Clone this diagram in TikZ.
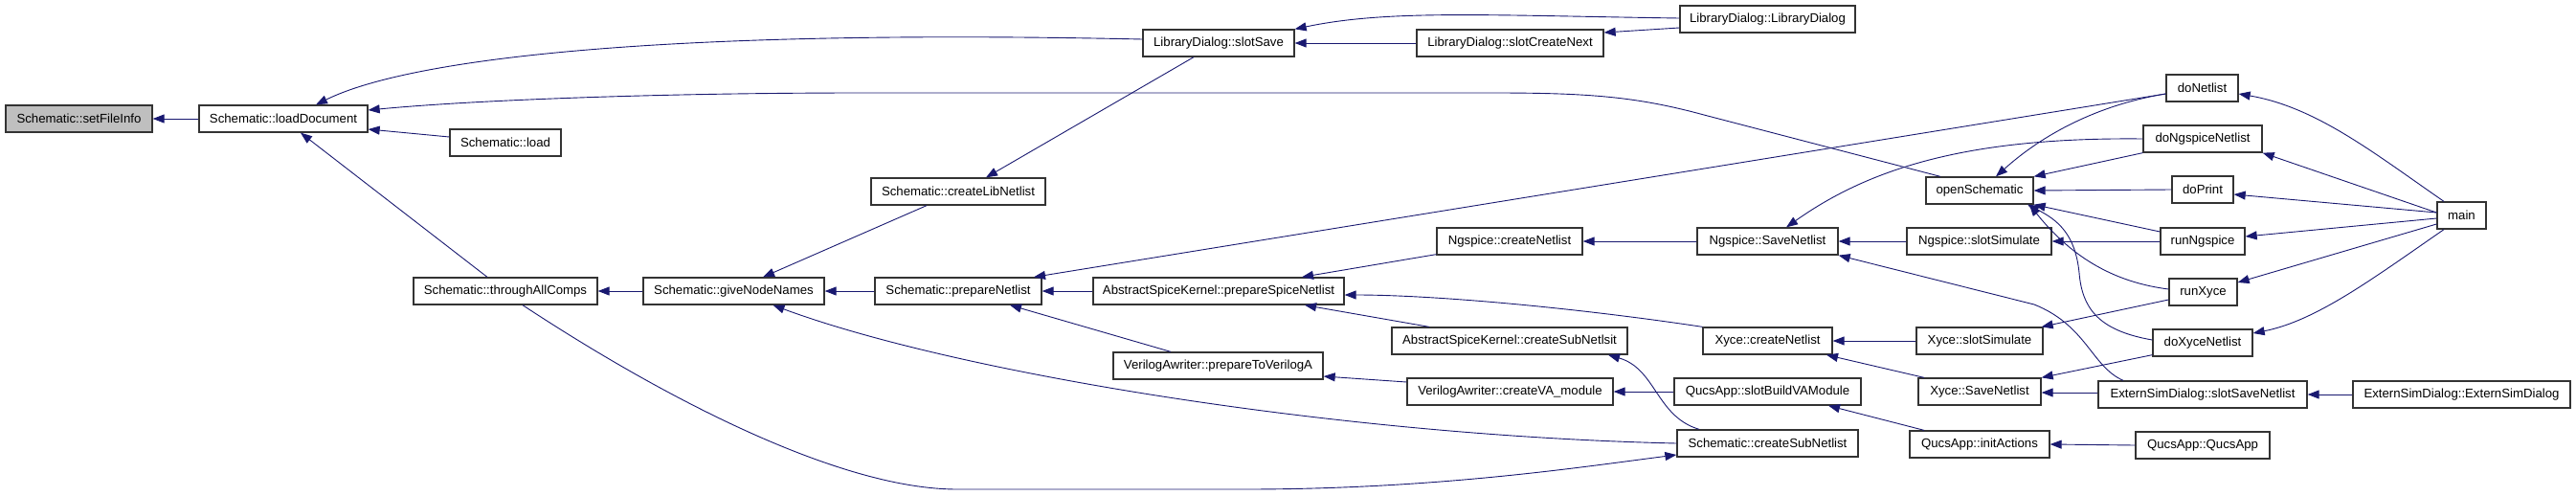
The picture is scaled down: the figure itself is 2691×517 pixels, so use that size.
\documentclass[tikz,border=0pt]{standalone}
\usepackage{fontspec}
\setmainfont{Liberation Sans}
\usetikzlibrary{arrows.meta,calc}
\definecolor{edgeblue}{HTML}{191970}
\definecolor{rootgray}{HTML}{BFBFBF}
\definecolor{boxline}{HTML}{333333}
\begin{document}
\begin{tikzpicture}[x=1pt,y=-1pt,
  box/.style={draw=boxline,line width=1.3pt,fill=white,rectangle,inner sep=0pt,minimum height=28pt,font=\fontsize{13.2}{15}\selectfont,text=black},
  rootbox/.style={box,fill=rootgray},
  edge/.style={draw=edgeblue,line width=0.9pt,-{Triangle[length=12pt,width=9pt]}}]
\useasboundingbox (0,0) rectangle (2691,517);
% nodes
\node[rootbox,minimum width=153pt] (sfi) at (82.5,124) {Schematic::setFileInfo};
\node[box,minimum width=176pt] (ld) at (296,124) {Schematic::loadDocument};
\node[box,minimum width=116pt] (load) at (528,149) {Schematic::load};
\node[box,minimum width=192pt] (tac) at (528,304) {Schematic::throughAllComps};
\node[box,minimum width=189pt] (gnn) at (766.5,304) {Schematic::giveNodeNames};
\node[box,minimum width=158pt] (ss) at (1273,45) {LibraryDialog::slotSave};
\node[box,minimum width=182pt] (cln) at (1001,200) {Schematic::createLibNetlist};
\node[box,minimum width=174pt] (pn) at (1001,304) {Schematic::prepareNetlist};
\node[box,minimum width=262pt] (psn) at (1273,304) {AbstractSpiceKernel::prepareSpiceNetlist};
\node[box,minimum width=219pt] (ptv) at (1272.5,382) {VerilogAwriter::prepareToVerilogA};
\node[box,minimum width=195pt] (scn) at (1577.5,45) {LibraryDialog::slotCreateNext};
\node[box,minimum width=183pt] (ldd) at (1846.5,20) {LibraryDialog::LibraryDialog};
\node[box,minimum width=152pt] (ncn) at (1577,252) {Ngspice::createNetlist};
\node[box,minimum width=246pt] (csnl) at (1577,356) {AbstractSpiceKernel::createSubNetlsit};
\node[box,minimum width=215pt] (cva) at (1577.5,409) {VerilogAwriter::createVA\_module};
\node[box,minimum width=189pt] (csn) at (1846.5,463) {Schematic::createSubNetlist};
\node[box,minimum width=147pt] (nsn) at (1846.5,252) {Ngspice::SaveNetlist};
\node[box,minimum width=135pt] (xcn) at (1846.5,356) {Xyce::createNetlist};
\node[box,minimum width=195pt] (sbva) at (1846.5,409) {QucsApp::slotBuildVAModule};
\node[box,minimum width=112pt] (os) at (2068,199) {openSchematic};
\node[box,minimum width=151pt] (nss) at (2067.5,252) {Ngspice::slotSimulate};
\node[box,minimum width=132pt] (xss) at (2068,356) {Xyce::slotSimulate};
\node[box,minimum width=128pt] (xsn) at (2068,409) {Xyce::SaveNetlist};
\node[box,minimum width=146pt] (ia) at (2068,464) {QucsApp::initActions};
\node[box,minimum width=218pt] (essn) at (2301,412) {ExternSimDialog::slotSaveNetlist};
\node[box,minimum width=75pt] (dn) at (2300.5,92) {doNetlist};
\node[box,minimum width=124pt] (dnn) at (2301,145) {doNgspiceNetlist};
\node[box,minimum width=64pt] (dp) at (2301,198) {doPrint};
\node[box,minimum width=88pt] (rn) at (2301,252) {runNgspice};
\node[box,minimum width=71pt] (rx) at (2301.5,305) {runXyce};
\node[box,minimum width=104pt] (dxn) at (2301,358) {doXyceNetlist};
\node[box,minimum width=227pt] (esd) at (2571.5,412) {ExternSimDialog::ExternSimDialog};
\node[box,minimum width=140pt] (qa) at (2301,465) {QucsApp::QucsApp};
\node[box,minimum width=51pt] (main) at (2571.5,225) {main};
% edges
\draw[edge] (ld.west) -- (sfi.east);
\draw[edge] ($(ss.west)+(0,-4)$) .. controls (700,30) and (430,60) .. ($(ld.north)+(34,0)$);
\draw[edge] ($(os.north)+(-41,0)$) -- (1780,120) .. controls (1710,101) and (1660,97) .. (1560,97) -- (900,97) .. controls (700,97) and (500,104) .. ($(ld.east)+(0,-9)$);
\draw[edge] ($(load.west)+(0,-6)$) -- ($(ld.east)+(0,11)$);
\draw[edge] ($(tac.north)+(-19,0)$) -- ($(ld.south)+(18,0)$);
\draw[edge] (gnn.west) -- (tac.east);
\draw[edge] ($(tac.south)+(18,0)$) .. controls (700,420) and (880,511) .. (1000,511) -- (1300,511) .. controls (1500,511) and (1650,488) .. ($(csn.west)+(0,12)$);
\draw[edge] (csn.west) .. controls (1400,455) and (1000,390) .. ($(gnn.south)+(41,0)$);
\draw[edge] ($(cln.south)+(-33,0)$) -- ($(gnn.north)+(30.5,0)$);
\draw[edge] (pn.west) -- (gnn.east);
\draw[edge] ($(ss.south)+(-26,0)$) -- ($(cln.north)+(29,0)$);
\draw[edge] (scn.west) -- (ss.east);
\draw[edge] ($(ldd.west)+(0,-1)$) .. controls (1550,16) and (1450,10) .. (ss.north east);
\draw[edge] ($(ldd.west)+(0,9)$) -- ($(scn.east)+(0,-11)$);
\draw[edge] ($(dn.west)+(0,6)$) -- ($(pn.north)+(79,0)$);
\draw[edge] (psn.west) -- (pn.east);
\draw[edge] ($(ptv.north)+(-49.5,0)$) -- ($(pn.south)+(54,0)$);
\draw[edge] ($(ncn.south west)+(0,-1)$) -- ($(psn.north)+(87,0)$);
\draw[edge] (xcn.north west) .. controls (1650,322) and (1500,308) .. ($(psn.east)+(0,4)$);
\draw[edge] ($(csnl.north)+(-84,0)$) -- ($(psn.south)+(90,0)$);
\draw[edge] ($(csn.north)+(-71.5,0)$) .. controls (1730,435) and (1730,385) .. ($(csnl.south)+(103,0)$);
\draw[edge] ($(cva.west)+(0,-10)$) -- ($(ptv.east)+(0,11)$);
\draw[edge] (sbva.west) -- (cva.east);
\draw[edge] (nsn.west) -- (ncn.east);
\draw[edge] (dnn.west) .. controls (2050,143) and (1950,178) .. ($(nsn.north)+(19.5,0)$);
\draw[edge] (nss.west) -- (nsn.east);
\draw[edge] ($(essn.north)+(-83,0)$) .. controls (2185,383) and (2180,340) .. (2125,318) -- (nsn.south east);
\draw[edge] (rn.west) -- (nss.east);
\draw[edge] ($(dn.west)+(0,6)$) .. controls (2200,108) and (2140,135) .. ($(os.north)+(17,0)$);
\draw[edge] (dnn.south west) -- (os.north east);
\draw[edge] (dp.west) -- (os.east);
\draw[edge] ($(rn.west)+(0,-10)$) -- (os.south east);
\draw[edge] ($(rx.west)+(0,-3)$) .. controls (2210,295) and (2165,270) .. ($(os.south)+(52,0)$);
\draw[edge] ($(dxn.west)+(0,-3)$) .. controls (2190,345) and (2175,320) .. (2172,285) .. controls (2168,245) and (2150,230) .. ($(os.south)+(50,0)$);
\draw[edge] (xss.west) -- (xcn.east);
\draw[edge] ($(xsn.north)+(-58,0)$) -- ($(xcn.south)+(61.5,0)$);
\draw[edge] ($(rx.west)+(0,8)$) -- ($(xss.north east)+(-2,0)$);
\draw[edge] ($(dxn.south west)+(0,-2)$) -- (xsn.north east);
\draw[edge] ($(essn.west)+(0,-2)$) -- ($(xsn.east)+(0,1)$);
\draw[edge] (esd.west) -- (essn.east);
\draw[edge] ($(ia.north)+(-58,0)$) -- ($(sbva.south)+(63.5,0)$);
\draw[edge] (qa.west) -- (ia.east);
\draw[edge] ($(main.north)+(-18.5,0)$) .. controls (2480,160) and (2420,112) .. ($(dn.east)+(0,6)$);
\draw[edge] ($(main.west)+(0,-3)$) -- (dnn.south east);
\draw[edge] ($(main.west)+(0,-3)$) -- ($(dp.east)+(0,5)$);
\draw[edge] ($(main.west)+(0,3)$) -- ($(rn.east)+(0,-5)$);
\draw[edge] ($(main.west)+(0,9)$) -- ($(rx.east)+(0,-10)$);
\draw[edge] ($(main.south)+(-18.5,0)$) .. controls (2480,290) and (2420,335) .. ($(dxn.east)+(0,-10)$);
\end{tikzpicture}
\end{document}
